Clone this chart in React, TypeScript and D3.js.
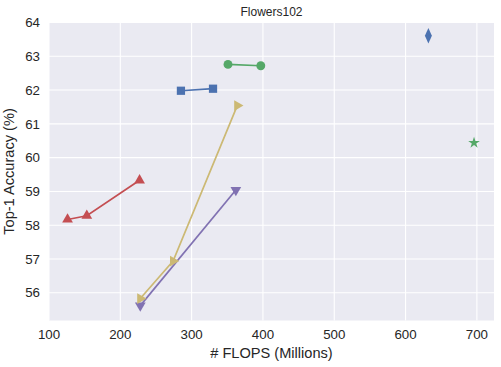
import React from 'react';
import * as d3 from 'd3';

// series: FLOPS (millions) vs top-1 accuracy
const squareFlops = [285, 330];
const squareAcc = [61.98, 62.04];
const circleFlops = [351, 397];
const circleAcc = [62.76, 62.72];
const upFlops = [126, 153, 227];
const upAcc = [58.17, 58.28, 59.33];
const downFlops = [228, 362];
const downAcc = [55.62, 59.04];
const rightFlops = [228, 274, 364];
const rightAcc = [55.83, 56.94, 61.54];
const diamondFlops = [632];
const diamondAcc = [63.61];
const starFlops = [696];
const starAcc = [60.44];

const xTicks = [100, 200, 300, 400, 500, 600, 700];
const yTicks = [56, 57, 58, 59, 60, 61, 62, 63, 64];

const series = [
  { x: squareFlops, y: squareAcc, color: '#4C72B0', marker: 'square' },
  { x: circleFlops, y: circleAcc, color: '#55A868', marker: 'circle' },
  { x: upFlops, y: upAcc, color: '#C44E52', marker: 'up' },
  { x: downFlops, y: downAcc, color: '#8172B2', marker: 'down' },
  { x: rightFlops, y: rightAcc, color: '#CCB974', marker: 'right' },
  { x: diamondFlops, y: diamondAcc, color: '#4C72B0', marker: 'diamond' },
  { x: starFlops, y: starAcc, color: '#55A868', marker: 'star' },
];

const W = 501;
const H = 367;
const margin = { top: 22.5, right: 7, bottom: 46.5, left: 49 };

const markerPath = (m: string) => {
  switch (m) {
    case 'square': return d3.symbol(d3.symbolSquare, 68)();
    case 'circle': return d3.symbol(d3.symbolCircle, 62)();
    case 'diamond': return d3.symbol(d3.symbolDiamond, 52)();
    case 'star': return d3.symbol(d3.symbolStar, 42)();
    default: return d3.symbol(d3.symbolTriangle, 50)();
  }
};

const markerTransform = (m: string) => {
  if (m === 'down') return 'rotate(180)';
  if (m === 'right') return 'rotate(90)';
  if (m === 'diamond') return 'scale(0.9,1.15)';
  return '';
};

const App = () => {
  const iw = W - margin.left - margin.right;
  const ih = H - margin.top - margin.bottom;
  const x = d3.scaleLinear().domain([100, 724]).range([0, iw]);
  const y = d3.scaleLinear().domain([55.18, 64.0]).range([ih, 0]);
  const line = d3.line<[number, number]>().x(d => x(d[0])).y(d => y(d[1]));
  const font = '"Liberation Sans", Arial, sans-serif';

  return (
    <svg width={W} height={H} style={{ position: 'absolute', left: 0, top: 0, background: '#fff' }} fontFamily={font}>
      <g transform={`translate(${margin.left},${margin.top})`}>
        <rect width={iw} height={ih} fill="#EAEAF2" />
        {xTicks.map(t => (
          <line key={'gx' + t} x1={x(t)} x2={x(t)} y1={0} y2={ih} stroke="#fff" strokeWidth={1.1} />
        ))}
        {yTicks.map(t => (
          <line key={'gy' + t} x1={0} x2={iw} y1={y(t)} y2={y(t)} stroke="#fff" strokeWidth={1.1} />
        ))}
        {series.map((s, i) => {
          const pts = s.x.map((v, j) => [v, s.y[j]] as [number, number]);
          return (
            <g key={i}>
              {pts.length > 1 && (
                <path d={line(pts) || ''} fill="none" stroke={s.color} strokeWidth={1.7} />
              )}
              {pts.map((p, j) => (
                <path key={j} d={markerPath(s.marker) || ''} fill={s.color}
                  transform={`translate(${x(p[0])},${y(p[1])}) ${markerTransform(s.marker)}`} />
              ))}
            </g>
          );
        })}
        {xTicks.map(t => (
          <text key={'tx' + t} x={x(t)} y={ih + 18} textAnchor="middle" fontSize={13.3} fill="#262626">{t}</text>
        ))}
        {yTicks.map(t => (
          <text key={'ty' + t} x={-9} y={y(t)} dy="0.35em" textAnchor="end" fontSize={13.3} fill="#262626">{t}</text>
        ))}
        <text x={iw / 2} y={-7} textAnchor="middle" fontSize={12} fill="#262626">Flowers102</text>
        <text x={iw / 2} y={ih + 37} textAnchor="middle" fontSize={14.6} fill="#262626"># FLOPS (Millions)</text>
        <text transform={`translate(${-35},${ih / 2}) rotate(-90)`} textAnchor="middle" fontSize={14.6} fill="#262626">Top-1 Accuracy (%)</text>
      </g>
    </svg>
  );
};

export default App;
